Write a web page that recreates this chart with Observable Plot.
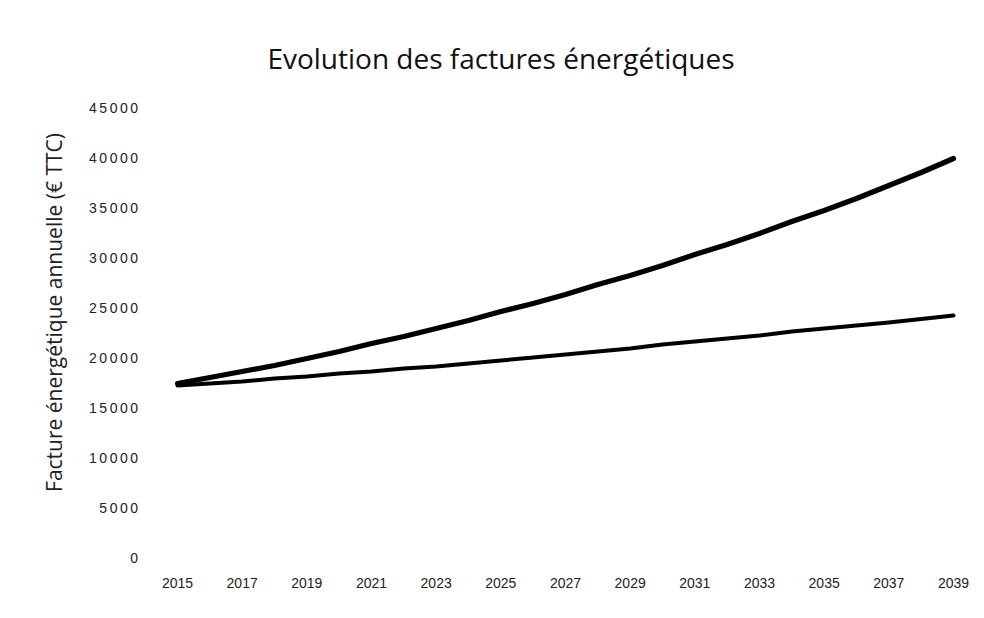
<!DOCTYPE html>
<html>
<head>
<meta charset="utf-8">
<script src="https://cdn.jsdelivr.net/npm/d3@7"></script>
<script src="https://cdn.jsdelivr.net/npm/@observablehq/plot@0.6"></script>
<style>
  html, body { margin: 0; padding: 0; background: #fff; }
  #wrap { width: 984px; height: 618px; position: relative; overflow: hidden; }
  #title { height: 90px; box-sizing: border-box; padding-top: 44px; padding-left: 18px;
    text-align: center; font-family: "Open Sans", sans-serif; font-size: 28px; color: #111; line-height: 1; }
  svg { display: block; }
</style>
</head>
<body>
<div id="wrap">
  <div id="title">Evolution des factures énergétiques</div>
  <div id="chart"></div>
</div>
<script>
const titleText = "Evolution des factures énergétiques";
const yLabel = "Facture énergétique annuelle (€ TTC)";
const years = [2015,2016,2017,2018,2019,2020,2021,2022,2023,2024,2025,2026,2027,2028,2029,2030,2031,2032,2033,2034,2035,2036,2037,2038,2039];
const facturesHaute = [17500,18100,18700,19300,20000,20700,21500,22200,23000,23800,24700,25500,26400,27400,28300,29300,30400,31400,32500,33700,34800,36000,37300,38600,40000];
const facturesBasse = [17300,17500,17700,18000,18200,18500,18700,19000,19200,19500,19800,20100,20400,20700,21000,21400,21700,22000,22300,22700,23000,23300,23600,23950,24300];
const xTicks = [2015,2017,2019,2021,2023,2025,2027,2029,2031,2033,2035,2037,2039];
const yTicks = [0,5000,10000,15000,20000,25000,30000,35000,40000,45000];

const haute = years.map((y, i) => ({year: y, value: facturesHaute[i]}));
const basse = years.map((y, i) => ({year: y, value: facturesBasse[i]}));

const chart = Plot.plot({
  width: 984,
  height: 528,
  marginTop: 18,
  marginBottom: 60,
  marginLeft: 177,
  marginRight: 31,
  style: {fontFamily: "Liberation Sans, sans-serif", fontSize: "14px", color: "#222", background: "#fff"},
  x: {domain: [2015, 2039]},
  y: {domain: [0, 45000]},
  marks: [
    Plot.axisX({ticks: xTicks, tickFormat: d => String(d), tickSize: 0, tickPadding: 20, label: null, fontSize: 14}),
    Plot.axisY({ticks: yTicks, tickFormat: d => String(d), tickSize: 0, tickPadding: 37, fontSize: 14,
      label: yLabel, labelAnchor: "center", labelArrow: "none", labelOffset: 130}),
    Plot.line(basse, {x: "year", y: "value", stroke: "#000", strokeWidth: 4, strokeLinecap: "round", strokeLinejoin: "round"}),
    Plot.line(haute, {x: "year", y: "value", stroke: "#000", strokeWidth: 5.2, strokeLinecap: "round", strokeLinejoin: "round"})
  ]
});
document.getElementById("chart").appendChild(chart);
// y tick labels: slightly wider spacing like the scanned reference
chart.querySelectorAll("g[aria-label='y-axis tick label'] text").forEach(t => { t.style.letterSpacing = "2.5px"; });
// axis title: larger, centered a little above the frame middle
chart.querySelectorAll("g[aria-label='y-axis label'] text").forEach(t => {
  t.style.fontSize = "21px"; t.style.fontFamily = "Open Sans, sans-serif"; t.setAttribute("dx", "21");
});
</script>
</body>
</html>
